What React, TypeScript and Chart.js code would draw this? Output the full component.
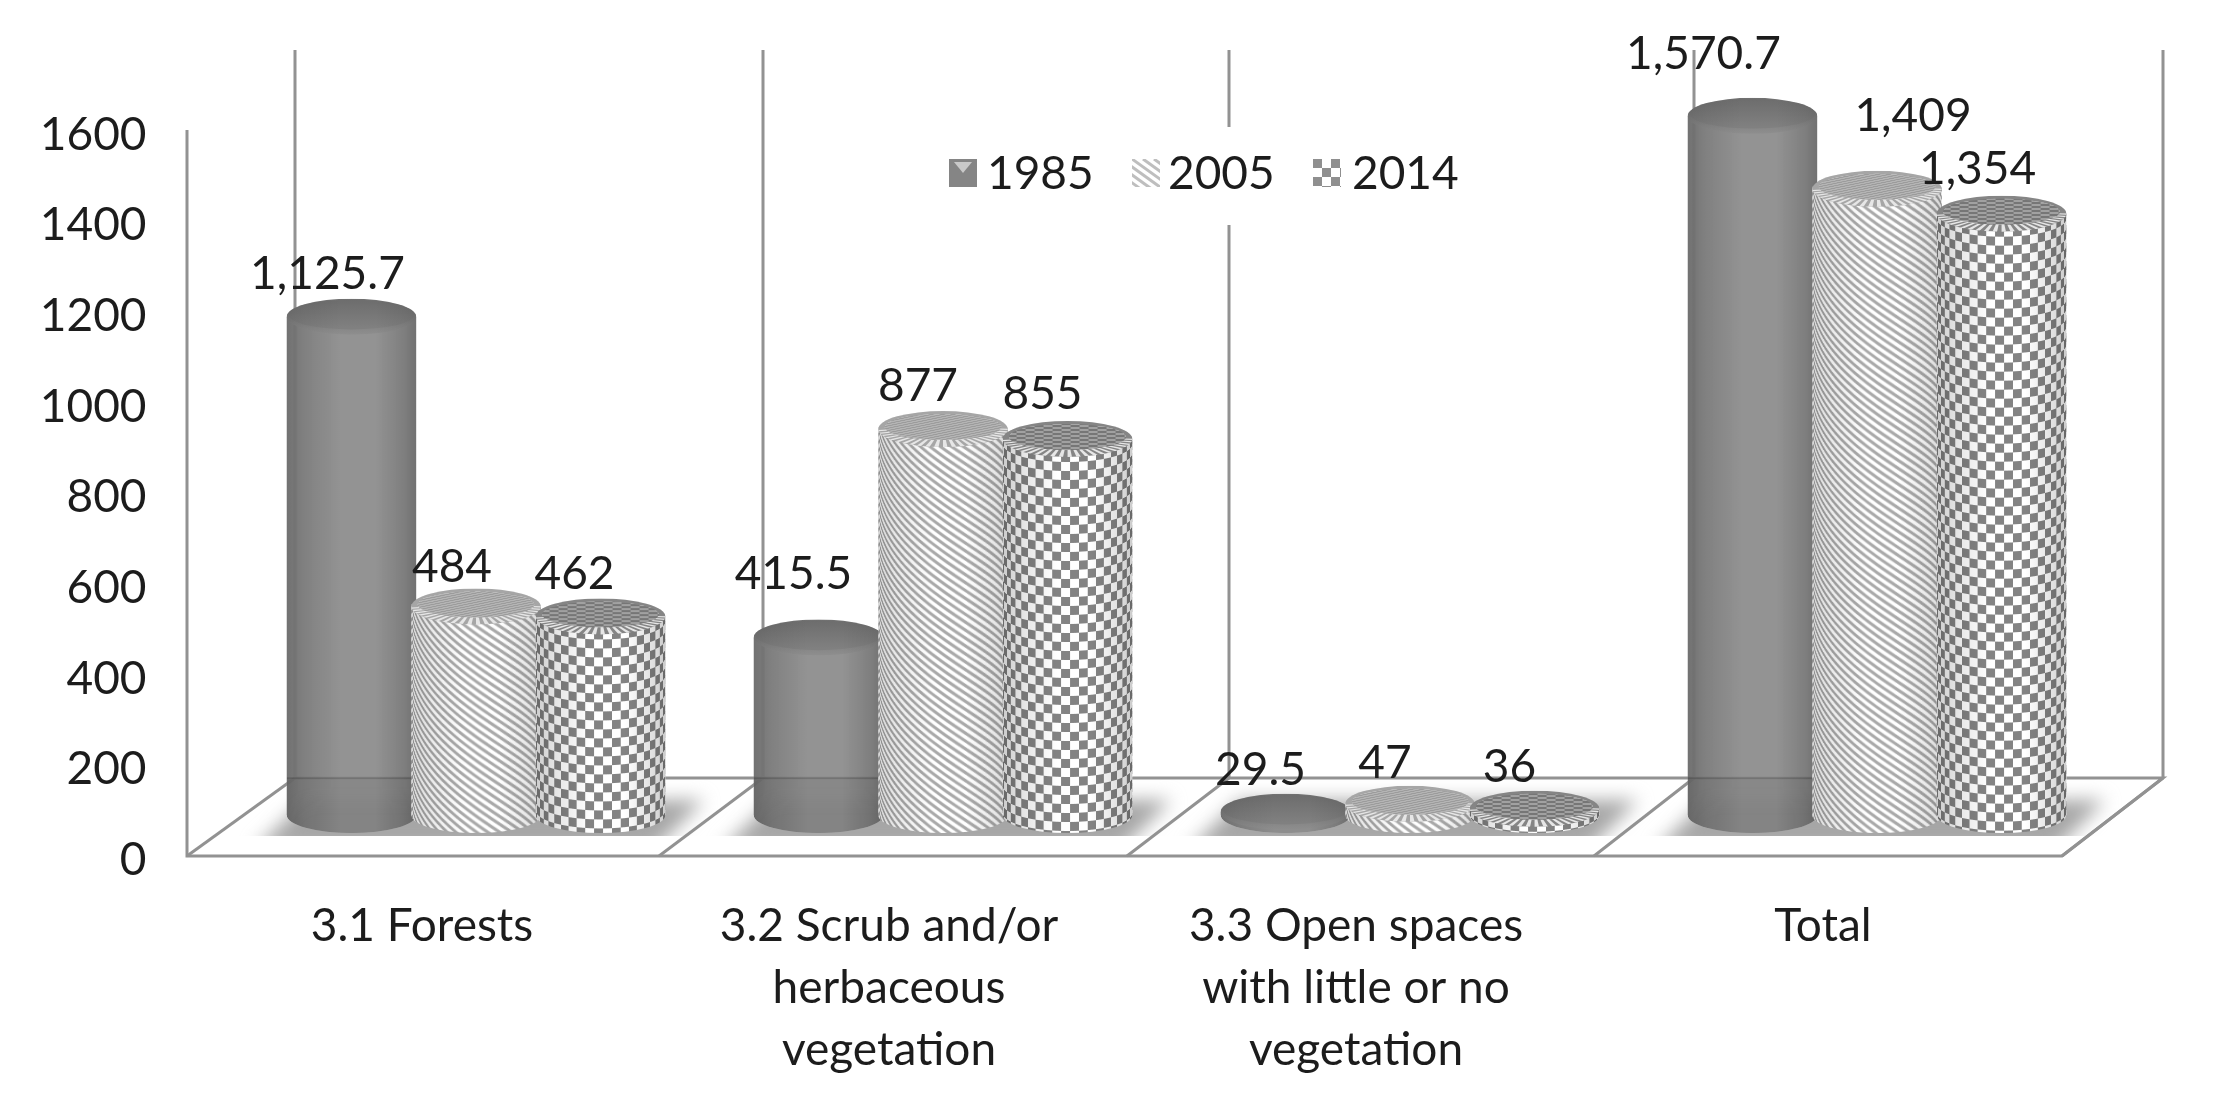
import React, { useEffect, useRef } from "react";
import { Chart, registerables } from "chart.js";

Chart.register(...registerables);

const categories = [
  ["3.1 Forests"],
  ["3.2 Scrub and/or", "herbaceous", "vegetation"],
  ["3.3 Open spaces", "with little or no", "vegetation"],
  ["Total"],
];
const seriesNames = ["1985", "2005", "2014"];
const values1985 = [1125.7, 415.5, 29.5, 1570.7];
const values2005 = [484, 877, 47, 1409];
const values2014 = [462, 855, 36, 1354];
const yTickStep = 200;

// label placement relative to each bar's top, [dx, dy], per series then category
const labelNudges = [
  [[-24, -43], [-25, -63], [-25, -42], [-49, -62]],
  [[-24, -39], [-25, -43], [-25, -41], [36, -73]],
  [[-26, -42], [-25, -45], [-25, -42], [-24, -44]],
];

const FONT = "Lato, Carlito, sans-serif";
const FONT_SIZE = 46;
const TEXT = "#1c1c1c";
const FRAME = "#929292";
const RY = 18;

function stripeTile() {
  const c = document.createElement("canvas");
  c.width = 300;
  c.height = 900;
  const g = c.getContext("2d")!;
  g.fillStyle = "#ffffff";
  g.fillRect(0, 0, 300, 900);
  g.strokeStyle = "#a9a9a9";
  g.lineWidth = 3;
  for (let k = -160; k < 40; k++) {
    g.beginPath();
    g.moveTo(k * 11, 0);
    g.lineTo(k * 11 + 900 / 0.72, 900);
    g.stroke();
  }
  return c;
}

function checkerTile() {
  const c = document.createElement("canvas");
  c.width = 300;
  c.height = 900;
  const g = c.getContext("2d")!;
  g.fillStyle = "#ffffff";
  g.fillRect(0, 0, 300, 900);
  g.fillStyle = "#838383";
  const s = 9;
  for (let i = 0; i * s < 300; i++) {
    for (let j = 0; j * s < 900; j++) {
      if ((i + j) % 2 === 0) g.fillRect(i * s, j * s, s, s);
    }
  }
  return c;
}

function bodyPath(ctx: any, cx: number, R: number, top: number, base: number) {
  ctx.beginPath();
  ctx.moveTo(cx - R, top);
  ctx.lineTo(cx - R, base);
  ctx.ellipse(cx, base, R, RY, 0, Math.PI, 0, true);
  ctx.lineTo(cx + R, top);
  ctx.ellipse(cx, top, R, RY, 0, 0, Math.PI, true);
  ctx.closePath();
}

function edgeShade(ctx: any, cx: number, R: number, a: number) {
  const g = ctx.createLinearGradient(cx - R, 0, cx + R, 0);
  g.addColorStop(0, `rgba(0,0,0,${a})`);
  g.addColorStop(0.14, `rgba(0,0,0,${a * 0.55})`);
  g.addColorStop(0.42, "rgba(0,0,0,0)");
  g.addColorStop(0.68, "rgba(0,0,0,0)");
  g.addColorStop(0.9, `rgba(0,0,0,${a * 0.6})`);
  g.addColorStop(1, `rgba(0,0,0,${a})`);
  return g;
}

function App() {
  const ref = useRef<HTMLCanvasElement | null>(null);

  useEffect(() => {
    const canvas = ref.current!;
    const tiles: any[] = [null, stripeTile(), checkerTile()];
    const ctx0 = canvas.getContext("2d")!;

    const paintCylinders = (chart: any, idx: number) => {
      const { ctx } = chart;
      const tile = tiles[idx];
      ctx.save();
      chart.getDatasetMeta(idx).data.forEach((el: any) => {
        const cx = el.x;
        const R = el.width / 2;
        const top = el.y;
        const base = el.base;
        ctx.save();
        bodyPath(ctx, cx, R, top, base);
        ctx.clip();
        if (tile) {
          for (let x = Math.floor(cx - R); x < cx + R; x++) {
            const u = Math.max(-1, Math.min(1, (x + 0.5 - cx) / R));
            const src = 150 + R * Math.asin(u);
            const sag = RY * Math.sqrt(1 - u * u);
            ctx.drawImage(tile, src, 0, 1, 900, x, top + sag - 4, 1, 900);
          }
          ctx.fillStyle = edgeShade(ctx, cx, R, idx === 1 ? 0.16 : 0.2);
          ctx.fillRect(cx - R, top - RY, 2 * R, base - top + 2 * RY);
        } else {
          ctx.fillStyle = "rgba(140,140,140,0.94)";
          ctx.beginPath();
          ctx.ellipse(cx, base, R, RY, 0, 0, Math.PI);
          ctx.fill();
          ctx.fillStyle = edgeShade(ctx, cx, R, 0.23);
          ctx.fillRect(cx - R, top - RY, 2 * R, base - top + 2 * RY);
          if (top < 778) {
            ctx.fillStyle = "rgba(0,0,0,0.07)";
            ctx.fillRect(cx - R, 778, 2 * R, base + RY - 778);
            ctx.fillStyle = "rgba(0,0,0,0.12)";
            ctx.fillRect(cx - R, 777, 2 * R, 2);
          }
        }
        ctx.restore();

        // top cap
        ctx.save();
        ctx.beginPath();
        ctx.ellipse(cx, top, R, RY, 0, 0, Math.PI * 2);
        ctx.clip();
        if (tile) {
          ctx.fillStyle = idx === 1 ? "#a6a6a6" : "#858585";
          ctx.fillRect(cx - R, top - RY, 2 * R, 2 * RY);
          const n = 46;
          for (let k = 0; k < n; k++) {
            if (k % 2) continue;
            const a0 = (k / n) * Math.PI;
            const a1 = ((k + 1) / n) * Math.PI;
            ctx.fillStyle = "#e6e6e6";
            ctx.beginPath();
            ctx.moveTo(cx, top - 2);
            ctx.lineTo(cx + R * 1.1 * Math.cos(a0), top + RY * 1.1 * Math.sin(a0));
            ctx.lineTo(cx + R * 1.1 * Math.cos(a1), top + RY * 1.1 * Math.sin(a1));
            ctx.closePath();
            ctx.fill();
          }
          ctx.beginPath();
          ctx.ellipse(cx, top - 2, R * 0.9, RY * 0.72, 0, 0, Math.PI * 2);
          ctx.clip();
          ctx.drawImage(tile, 0, 0, 300, 900, cx - 150, top - 100, 300, 200);
          ctx.fillStyle = idx === 1 ? "rgba(150,150,150,0.7)" : "rgba(110,110,110,0.65)";
          ctx.fillRect(cx - R, top - RY, 2 * R, 2 * RY);
        } else {
          const rim = ctx.createLinearGradient(0, top - RY, 0, top + RY);
          rim.addColorStop(0, "#707070");
          rim.addColorStop(0.6, "#7e7e7e");
          rim.addColorStop(1, "#8e8e8e");
          ctx.fillStyle = rim;
          ctx.fillRect(cx - R, top - RY, 2 * R, 2 * RY);
          const inner = ctx.createLinearGradient(0, top - RY, 0, top + RY * 0.6);
          inner.addColorStop(0, "#6c6c6c");
          inner.addColorStop(1, "#808080");
          ctx.fillStyle = inner;
          ctx.beginPath();
          ctx.ellipse(cx, top - 2, R * 0.97, RY * 0.82, 0, 0, Math.PI * 2);
          ctx.fill();
          ctx.fillStyle = edgeShade(ctx, cx, R, 0.1);
          ctx.fillRect(cx - R, top - RY, 2 * R, 2 * RY);
        }
        ctx.restore();
      });
      ctx.restore();
    };

    const scenery = {
      id: "scenery",
      beforeDatasetsDraw(chart: any) {
        const { ctx, scales } = chart;
        const floorFront = 856;
        const floorBack = 778;
        const frontX = [187, 659, 1127, 1594, 2062];
        const backX = [295, 763, 1229, 1694, 2163];
        ctx.save();
        // soft shadows on the floor
        ctx.save();
        ctx.beginPath();
        ctx.rect(0, 700, 2214, 136);
        ctx.clip();
        ctx.filter = "blur(9px)";
        ctx.fillStyle = "#a6a6a6";
        categories.forEach((_, i) => {
          const c = scales.x.getPixelForValue(i);
          ctx.beginPath();
          ctx.moveTo(c - 222, 850);
          ctx.lineTo(c - 170, 800);
          ctx.lineTo(c + 228, 800);
          ctx.lineTo(c + 178, 850);
          ctx.closePath();
          ctx.fill();
        });
        ctx.restore();
        // frame
        ctx.strokeStyle = FRAME;
        ctx.lineWidth = 3;
        ctx.beginPath();
        ctx.moveTo(187, 130);
        ctx.lineTo(187, floorFront);
        ctx.lineTo(2062, floorFront);
        ctx.lineTo(2163, floorBack);
        ctx.lineTo(295, floorBack);
        ctx.stroke();
        frontX.forEach((x, i) => {
          ctx.beginPath();
          ctx.moveTo(x, floorFront);
          ctx.lineTo(backX[i], floorBack);
          ctx.stroke();
          ctx.beginPath();
          ctx.moveTo(backX[i], floorBack);
          ctx.lineTo(backX[i], 50);
          ctx.stroke();
        });
        // legend background
        ctx.fillStyle = "#ffffff";
        ctx.fillRect(930, 127, 540, 98);
        ctx.restore();
      },
      afterDatasetsDraw(chart: any) {
        const { ctx, data } = chart;
        // cylinders go on in series order, so that each hides the one before it
        data.datasets.forEach((_: any, d: number) => paintCylinders(chart, d));
        ctx.save();
        ctx.font = `${FONT_SIZE}px ${FONT}`;
        ctx.fillStyle = TEXT;
        ctx.textAlign = "center";
        ctx.textBaseline = "middle";
        data.datasets.forEach((ds: any, d: number) => {
          chart.getDatasetMeta(d).data.forEach((el: any, i: number) => {
            const text = ds.data[i].toLocaleString("en-US", { maximumFractionDigits: 1 });
            const [dx, dy] = labelNudges[d][i];
            ctx.fillText(text, el.x + dx, el.y + dy);
          });
        });
        // legend
        const iconX = [949, 1132, 1313];
        const textX = [987, 1168, 1352];
        ctx.textAlign = "left";
        data.datasets.forEach((ds: any, d: number) => {
          const x = iconX[d];
          const y = 159;
          if (d === 0) {
            ctx.fillStyle = "#858585";
            ctx.fillRect(x, y, 28, 28);
            ctx.fillStyle = "#c9c9c9";
            ctx.beginPath();
            ctx.moveTo(x + 5, y + 3);
            ctx.lineTo(x + 23, y + 3);
            ctx.lineTo(x + 14, y + 14);
            ctx.closePath();
            ctx.fill();
          } else {
            ctx.drawImage(tiles[d], 0, 0, 28, 28, x, y, 28, 28);
            ctx.fillStyle = d === 1 ? "rgba(255,255,255,0.25)" : "rgba(255,255,255,0.1)";
            ctx.fillRect(x, y, 28, 28);
          }
          ctx.fillStyle = TEXT;
          ctx.fillText(ds.label, textX[d], 174);
        });
        ctx.restore();
      },
    };

    const makeDs = (label: string, data: number[], bg: any) => ({
      label,
      data,
      yAxisID: "y2",
      backgroundColor: bg,
      borderWidth: 0,
      clip: false as any,
      categoryPercentage: 0.8,
      barPercentage: 1.04,
      // the cylinders' feet sit a little above the plane where the scale reads 0
      base: 22,
    });

    const chart = new Chart(canvas, {
      type: "bar",
      data: {
        labels: categories as any,
        datasets: [
          makeDs(seriesNames[0], values1985, "rgba(140,140,140,0.94)"),
          makeDs(seriesNames[1], values2005, ctx0.createPattern(tiles[1], "repeat")),
          makeDs(seriesNames[2], values2014, ctx0.createPattern(tiles[2], "repeat")),
        ],
      },
      options: {
        responsive: false,
        animation: false,
        layout: { padding: { top: 135, left: 0, right: 103.5, bottom: 0 } },
        plugins: { legend: { display: false }, tooltip: { enabled: false } },
        scales: {
          x: {
            grid: { display: false, drawTicks: false },
            border: { display: false },
            ticks: {
              autoSkip: false,
              maxRotation: 0,
              padding: 35,
              labelOffset: -54,
              color: TEXT,
              font: { family: FONT, size: FONT_SIZE, lineHeight: "62px" as any },
            },
            afterFit(s: any) {
              s.height = 247;
              s.paddingLeft = 0;
              s.paddingRight = 0;
            },
          },
          y: {
            min: 0,
            max: 1600,
            grid: { display: false, drawTicks: false },
            border: { display: false },
            ticks: {
              stepSize: yTickStep,
              padding: 96,
              color: TEXT,
              font: { family: FONT, size: FONT_SIZE },
              callback: (v: any) => String(v),
            },
            afterFit(s: any) {
              s.width = 242.5;
              s.paddingTop = 0;
              s.paddingBottom = 0;
            },
          },
          // the cylinders stand further back than the front axis: their own hidden scale
          y2: { display: false, min: -77.5, max: 1528.2 },
        },
      },
      plugins: [scenery],
    } as any);

    return () => chart.destroy();
  }, []);

  return (
    <div style={{ position: "absolute", left: 0, top: 0, width: 2214, height: 1107, background: "#fff" }}>
      <canvas ref={ref} width={2214} height={1107} style={{ display: "block", filter: "blur(0.6px)" }} />
    </div>
  );
}

export default App;
